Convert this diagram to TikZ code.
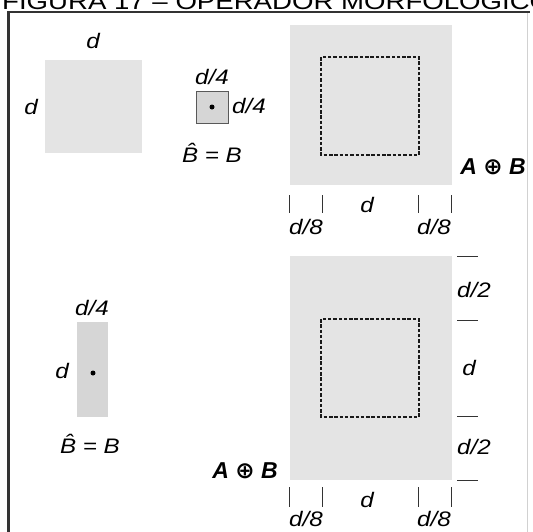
\documentclass[tikz,border=0pt]{standalone}
\usepackage{fontspec}
\setmainfont{Liberation Sans}
\newfontfamily\symfont{DejaVu Sans}
\newcommand\lbl[1]{\scalebox{1.15}[1]{\fontsize{21}{23}\selectfont\itshape #1}}
\newcommand\opl[1]{\fontsize{23}{26}\selectfont\bfseries\itshape #1}
\definecolor{fillA}{HTML}{E4E4E4}
\definecolor{fillB}{HTML}{D6D6D6}
\definecolor{frameC}{HTML}{333333}
\tikzset{
  lab/.style={inner sep=0pt, anchor=center},
  tick/.style={line width=0.8pt, black!80},
  dashbox/.style={line width=1.8pt, dash pattern=on 3.5pt off 1.8pt, black!90},
  graybox/.style={fill=fillA, draw=none},
  dotc/.style={fill=black, draw=none}
}
\begin{document}
\begin{tikzpicture}[x=1pt,y=-1pt]
\useasboundingbox (0,0) rectangle (533,531);
\fill[white] (0,0) rectangle (533,531);
% title (cut off at top, as in the reference)
\node[anchor=base west, inner sep=0pt] (title) at (2,9)
  {\scalebox{1.2}[1]{\fontsize{23}{26}\selectfont FIGURA 17 – OPERADOR MORFOLÓGICO}};
% frame
\draw[line width=2.6pt, frameC] (8.5,545) -- (8.5,12) -- (530,12);
\draw[line width=0.8pt, black!18] (527,13) -- (527,545);

% ---------- square A ----------
\fill[graybox] (45,60) rectangle (142,153);
\node[lab] (dAtop) at (93,41) {\lbl{d}};
\node[lab] (dAleft) at (31,107) {\lbl{d}};

% ---------- small structuring element B ----------
\filldraw[fill=fillB, draw=black!65, line width=0.9pt] (196,91) rectangle (228,123);
\fill[dotc] (212,107) circle (2.5);
\node[lab] (dB1) at (212,77) {\lbl{d/4}};
\node[lab] (dB2) at (249,106) {\lbl{d/4}};
\node[lab] (Bhat1) at (212,153) {\lbl{\^{B} = B}};

% ---------- top dilation ----------
\fill[graybox] (290,25) rectangle (452,185);
\draw[dashbox] (321,57) rectangle (419,155);
\node[lab] (AB1) at (493,167) {\opl{A {\symfont ⊕} B}};
\foreach \xx in {289,322,418,451} \draw[tick] (\xx,195) -- (\xx,213);
\node[lab] (d8a) at (306,227) {\lbl{d/8}};
\node[lab] (d1) at (367,205) {\lbl{d}};
\node[lab] (d8b) at (434,227) {\lbl{d/8}};

% ---------- tall structuring element B ----------
\fill[fillB] (77,322) rectangle (108,417);
\fill[dotc] (93,373) circle (2.5);
\node[lab] (dT1) at (92,308) {\lbl{d/4}};
\node[lab] (dT2) at (62,371) {\lbl{d}};
\node[lab] (Bhat2) at (90,444) {\lbl{\^{B} = B}};

% ---------- bottom dilation ----------
\fill[graybox] (290,256) rectangle (452,480);
\draw[dashbox] (321,319) rectangle (419,417);
\node[lab] (AB2) at (245,471) {\opl{A {\symfont ⊕} B}};
\foreach \yy in {256,320,416,480} \draw[tick] (457,\yy) -- (478,\yy);
\node[lab] (d2a) at (474,290) {\lbl{d/2}};
\node[lab] (d3) at (469,368) {\lbl{d}};
\node[lab] (d2b) at (474,447) {\lbl{d/2}};
\foreach \xx in {289,322,418,451} \draw[tick] (\xx,487) -- (\xx,507);
\node[lab] (d8c) at (306,519) {\lbl{d/8}};
\node[lab] (d4) at (367,500) {\lbl{d}};
\node[lab] (d8d) at (434,519) {\lbl{d/8}};
\end{tikzpicture}
\end{document}
